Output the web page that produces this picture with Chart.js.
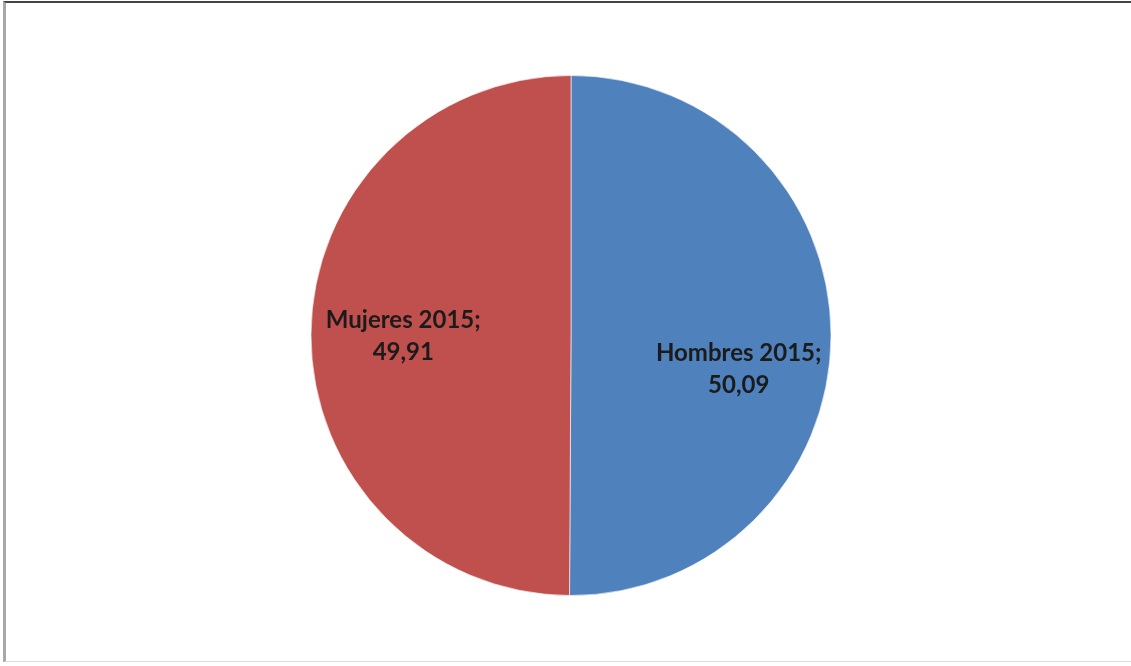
<!DOCTYPE html>
<html>
<head>
<meta charset="utf-8">
<script src="https://cdn.jsdelivr.net/npm/chart.js@4/dist/chart.umd.min.js"></script>
<style>
  html, body { margin: 0; padding: 0; background: #fff; }
  #wrap { position: relative; width: 1131px; height: 666px; overflow: hidden; }
  #frame {
    position: absolute; left: 3px; top: 1px; width: 1130px; height: 661px;
    border-top: 2px solid #444; border-left: 3px solid #a8a8a8;
    border-bottom: 1px solid #ddd; box-sizing: border-box; pointer-events: none;
  }
</style>
</head>
<body>
<div id="wrap">
  <canvas id="chartPie" width="1131" height="666"></canvas>
  <div id="frame"></div>
</div>
<script>
// Pie data
const categories = ["Hombres 2015", "Mujeres 2015"];
const values = [50.09, 49.91];
const valueLabels = ["50,09", "49,91"];
const sliceColors = ["#4F81BD", "#C0504D"];

// labels inside slices, Excel style "name; value"
const sliceLabels = {
    id: "sliceLabels",
    afterDatasetsDraw(chart, args, opts) {
        const ctx = chart.ctx;
        const meta = chart.getDatasetMeta(0);
        ctx.save();
        ctx.font = opts.font;
        ctx.fillStyle = opts.color;
        ctx.textAlign = "center";
        ctx.textBaseline = "middle";
        meta.data.forEach(function(arc, i) {
            const mid = (arc.startAngle + arc.endAngle) / 2;
            const r = arc.outerRadius * opts.radiusFactor;
            const x = arc.x + Math.cos(mid) * r;
            const y = arc.y + Math.sin(mid) * r + opts.dy[i];
            ctx.fillText(categories[i] + ";", x, y - opts.lineHeight / 2);
            ctx.fillText(valueLabels[i], x, y + opts.lineHeight / 2);
        });
        ctx.restore();
    }
};

const dataPie = {
    labels: categories,
    datasets: [{
        data: values,
        backgroundColor: sliceColors,
        borderColor: "rgba(255,255,255,0.6)",
        borderWidth: 1,
    }, ],
};

const configPie = {
    type: "pie",
    data: dataPie,
    options: {
        responsive: false,
        animation: false,
        layout: { padding: { left: 11, right: 0, top: 75, bottom: 70 } },
        plugins: {
            legend: { display: false },
            tooltip: { enabled: false },
            sliceLabels: {
                font: "bold 24px Lato",
                color: "#1b1b1b",
                radiusFactor: 0.645,
                lineHeight: 32,
                dy: [33, 1],
            },
        },
    },
    plugins: [sliceLabels],
};

var chartPie = new Chart(
    document.getElementById("chartPie"),
    configPie
);
</script>
</body>
</html>
